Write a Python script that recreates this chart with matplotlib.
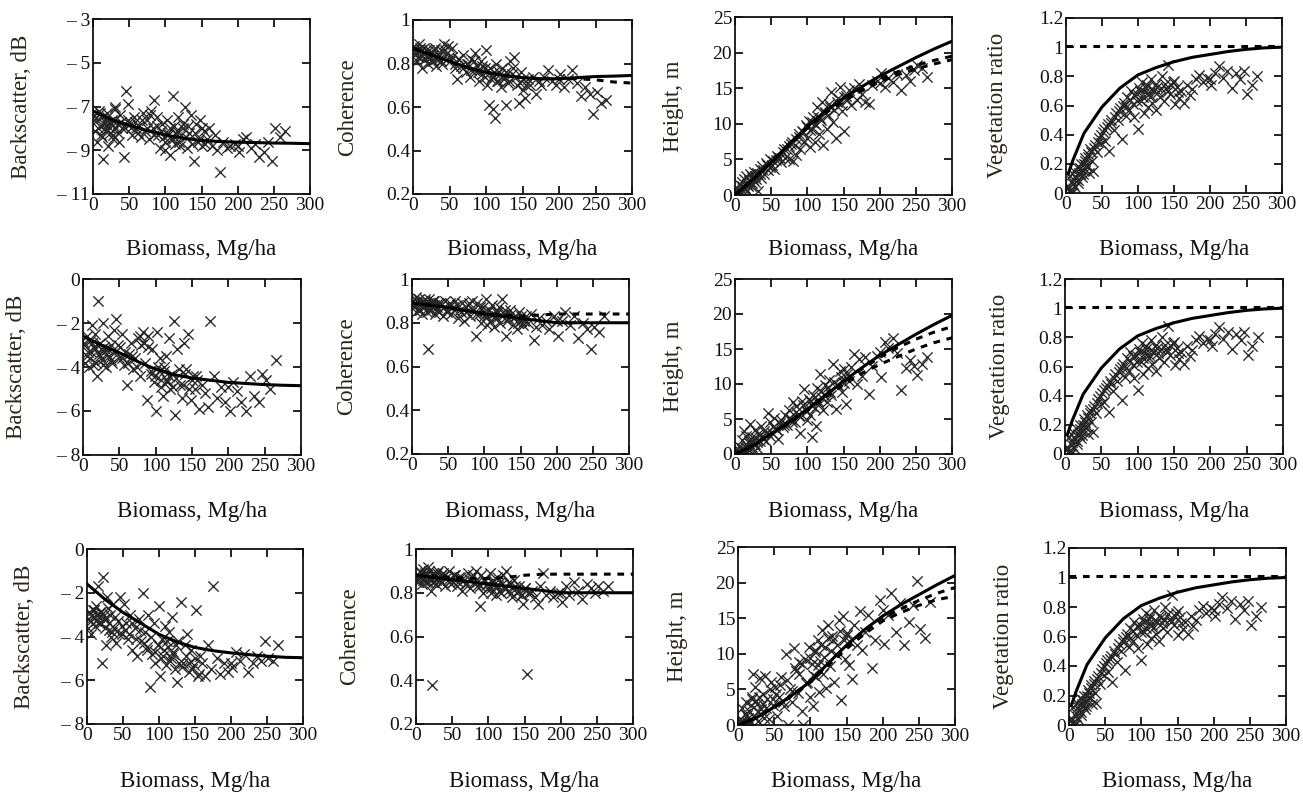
"""Biomass relations: backscatter, coherence, height and vegetation ratio (3 rows x 4 panels)."""

import matplotlib

matplotlib.use("Agg")
import matplotlib.pyplot as plt

# Stand biomass (Mg/ha), shared by every panel.
BIOMASS = [
    1, 3, 5, 6, 8, 9, 11, 12, 14, 15, 17, 19, 21, 22, 24, 26, 28, 30, 32, 34, 36, 38, 40, 43, 46, 49,
    51, 54, 57, 60, 63, 66, 69, 72, 75, 78, 80, 83, 85, 88, 90, 93, 95, 98,
    100, 102, 104, 106, 108, 110, 112, 114, 116, 118, 120, 122, 125, 127, 130, 133, 136, 139, 142, 145,
    148, 151, 154, 157,
    160, 164, 168, 172, 175, 180, 185, 190, 196, 202, 207, 212, 218, 224, 230, 236, 242, 247, 252, 258, 265,
]
# Further stands in the densely sampled range.
BIOMASS_CORE = [
    2, 7, 10, 13, 16, 18, 20, 23, 25, 27, 29, 31, 35, 39, 44, 48, 53, 58, 62, 68,
    74, 79, 84, 89, 94, 99, 103, 107, 111, 115, 119, 124, 128, 132, 137, 141, 146, 150, 155, 200,
]

# Row 1
BACKSCATTER_1 = [
    -7.4, -8.1, -7.6, -8.6, -7.2, -7.9, -8.3, -7.5, -9.4, -7.8, -8.0, -7.3, -8.8, -7.7, -8.2, -7.6, -8.5,
    -7.1, -8.0, -7.8, -8.6, -7.4, -8.0, -9.3, -6.3, -6.9,
    -7.8, -8.3, -7.5, -8.0, -7.9, -8.4, -7.3, -8.1, -7.6, -8.5, -7.2, -8.0, -6.7, -7.5, -8.3, -8.9, -7.8, -8.4,
    -9.0, -7.6, -8.2, -9.2, -8.5, -6.5, -7.9, -8.7, -8.1, -7.5, -8.8, -8.3, -7.8, -7.0, -8.9, -8.2, -7.4,
    -9.5, -7.8, -8.6, -7.6, -8.8, -8.1, -8.5,
    -8.0, -8.8, -8.3, -9.0, -10.0, -8.6, -8.9, -8.8, -8.7, -9.1, -8.5, -8.4, -8.9, -8.7, -9.3, -9.1, -8.6,
    -9.5, -8.0, -8.4, -8.1,
]
BACKSCATTER_1_CORE = [
    -7.6, -8.0, -7.3, -8.4, -7.7, -8.1, -7.5, -8.0, -7.8, -8.3, -7.6, -7.0, -8.2, -7.7, -8.0, -7.6, -8.0,
    -7.7, -8.2, -7.6, -8.0, -7.4, -8.3, -7.9, -8.1, -8.6, -8.3, -8.0, -8.5, -8.2, -8.6, -8.0, -8.4, -7.9,
    -8.7, -8.2, -8.5, -8.0, -8.7, -8.8,
]
COHERENCE_1 = [
    0.88, 0.84, 0.86, 0.81, 0.89, 0.83, 0.86, 0.78, 0.85, 0.87, 0.82, 0.84, 0.80, 0.86, 0.83, 0.85, 0.81,
    0.87, 0.79, 0.84, 0.82, 0.86, 0.80, 0.89, 0.85, 0.83,
    0.81, 0.87, 0.78, 0.73, 0.82, 0.79, 0.84, 0.76, 0.80, 0.74, 0.82, 0.77, 0.85, 0.79, 0.72, 0.81, 0.75, 0.78,
    0.86, 0.70, 0.61, 0.78, 0.74, 0.59, 0.55, 0.80, 0.72, 0.76, 0.69, 0.78, 0.74, 0.61, 0.71, 0.81, 0.75,
    0.83, 0.70, 0.62, 0.76, 0.68, 0.64, 0.73,
    0.70, 0.74, 0.66, 0.72, 0.70, 0.74, 0.77, 0.72, 0.70, 0.75, 0.69, 0.73, 0.77, 0.71, 0.65, 0.69, 0.66,
    0.57, 0.67, 0.62, 0.63,
]
COHERENCE_1_CORE = [
    0.86, 0.83, 0.87, 0.84, 0.82, 0.86, 0.83, 0.85, 0.81, 0.84, 0.86, 0.82, 0.84, 0.81, 0.86, 0.88, 0.83,
    0.80, 0.82, 0.78, 0.80, 0.77, 0.81, 0.76, 0.79, 0.74, 0.77, 0.73, 0.76, 0.72, 0.75, 0.73, 0.76, 0.72,
    0.78, 0.74, 0.71, 0.73, 0.70, 0.73,
]
HEIGHT_1 = [
    0.2, 0.8, 0.1, 1.5, 0.4, 1.8, 0.6, 2.2, 1.0, 2.6, 0.5, 2.0, 2.9, 1.2, 2.5, 3.2, 1.8, 3.0, 0.6, 3.6, 2.4,
    4.1, 3.0, 4.5, 3.5, 5.1,
    4.2, 3.6, 4.9, 5.3, 4.6, 6.0, 5.2, 6.4, 5.0, 7.2, 4.8, 7.0, 5.6, 8.1, 6.5, 9.0, 7.4, 9.8,
    8.0, 10.4, 6.8, 9.3, 11.0, 7.5, 9.9, 12.3, 8.6, 10.8, 13.0, 7.0, 11.5, 9.2, 12.8, 14.5, 10.2, 8.0, 13.6,
    15.2, 11.8, 9.0, 13.9, 14.8,
    12.6, 15.0, 13.4, 15.6, 14.2, 13.0, 12.8, 15.5, 16.0, 17.2, 15.1, 16.4, 15.9, 17.0, 14.8, 16.9, 16.0,
    17.5, 18.3, 17.8, 16.6,
]
HEIGHT_1_CORE = [
    0.0, 0.5, 1.2, 0.8, 1.6, 1.3, 2.1, 1.7, 2.3, 2.6, 2.2, 3.1, 3.0, 3.5, 4.2, 4.0, 4.8, 5.5, 5.2, 6.5,
    6.9, 7.5, 7.9, 8.6, 8.8, 9.5, 9.1, 10.2, 10.0, 11.0, 10.6, 11.6, 11.2, 12.3, 12.0, 13.0, 12.8, 13.7,
    13.4, 15.8,
]

# Vegetation ratio is the same in all three rows.
VEG_RATIO = [
    0.0, 0.05, 0.02, 0.12, 0.0, 0.08, 0.15, 0.04, 0.10, 0.18, 0.07, 0.13, 0.20, 0.11, 0.16, 0.24, 0.19, 0.27,
    0.14, 0.30, 0.22, 0.15, 0.33, 0.28, 0.38, 0.34,
    0.42, 0.36, 0.45, 0.29, 0.48, 0.43, 0.55, 0.50, 0.58, 0.37, 0.62, 0.53, 0.66, 0.57, 0.70, 0.61, 0.52, 0.68,
    0.44, 0.72, 0.63, 0.76, 0.55, 0.69, 0.74, 0.59, 0.66, 0.78, 0.62, 0.70, 0.57, 0.73, 0.66, 0.80, 0.63,
    0.72, 0.88, 0.68, 0.76, 0.61, 0.73, 0.65,
    0.70, 0.62, 0.74, 0.67, 0.71, 0.78, 0.81, 0.76, 0.79, 0.74, 0.82, 0.87, 0.79, 0.84, 0.72, 0.82, 0.78,
    0.84, 0.68, 0.74, 0.80,
]
VEG_RATIO_CORE = [
    0.03, 0.0, 0.06, 0.12, 0.09, 0.14, 0.17, 0.13, 0.20, 0.22, 0.18, 0.25, 0.28, 0.31, 0.35, 0.40, 0.44,
    0.47, 0.50, 0.52, 0.56, 0.60, 0.59, 0.64, 0.67, 0.63, 0.70, 0.66, 0.72, 0.68, 0.71, 0.74, 0.69, 0.72,
    0.75, 0.70, 0.74, 0.77, 0.69, 0.78,
]

# Row 2
BACKSCATTER_2 = [
    -3.0, -3.8, -2.6, -3.5, -4.0, -2.8, -3.3, -2.1, -3.9, -3.1, -2.5, -4.4, -1.0, -3.4, -2.9, -3.7, -2.0,
    -3.2, -4.0, -2.6, -3.5, -3.0, -3.8, -2.3, -1.8, -3.6,
    -3.1, -2.5, -3.9, -4.8, -3.4, -2.9, -4.1, -3.6, -2.7, -4.4, -3.0, -2.4, -3.8, -5.5, -2.6, -4.3, -3.2, -4.7,
    -6.0, -2.4, -4.2, -3.6, -4.9, -5.3, -4.0, -3.5, -4.6, -2.7, -5.0, -4.3, -1.9, -6.2, -3.2, -4.8, -5.4,
    -2.9, -4.1, -2.5, -5.5, -4.4, -5.0, -4.6,
    -5.9, -4.8, -5.2, -5.8, -1.9, -4.4, -5.4, -4.9, -5.6, -6.0, -4.7, -5.1, -5.6, -6.0, -4.4, -5.3, -5.6,
    -4.3, -4.6, -5.0, -3.7,
]
BACKSCATTER_2_CORE = [
    -2.9, -3.3, -3.6, -2.9, -3.2, -3.8, -3.0, -3.5, -3.2, -3.9, -3.1, -3.4, -3.2, -3.7, -3.3, -3.0, -3.6,
    -3.3, -3.8, -3.5, -4.0, -2.6, -2.9, -3.1, -4.2, -4.4, -4.0, -4.6, -4.2, -4.7, -4.4, -4.9, -4.5, -4.1,
    -4.8, -4.3, -5.0, -4.6, -4.4, -4.9,
]
COHERENCE_2 = [
    0.90, 0.87, 0.92, 0.85, 0.89, 0.91, 0.86, 0.88, 0.84, 0.90, 0.87, 0.89, 0.85, 0.68, 0.91, 0.86, 0.88,
    0.90, 0.84, 0.87, 0.89, 0.85, 0.88, 0.83, 0.90, 0.86,
    0.88, 0.84, 0.87, 0.90, 0.82, 0.86, 0.89, 0.81, 0.85, 0.88, 0.83, 0.90, 0.86, 0.74, 0.89, 0.84, 0.80, 0.87,
    0.83, 0.91, 0.79, 0.86, 0.81, 0.88, 0.84, 0.78, 0.85, 0.82, 0.87, 0.80, 0.91, 0.84, 0.74, 0.82, 0.86,
    0.79, 0.83, 0.77, 0.85, 0.81, 0.79, 0.83,
    0.80, 0.84, 0.72, 0.78, 0.82, 0.79, 0.81, 0.77, 0.83, 0.74, 0.81, 0.85, 0.79, 0.83, 0.73, 0.80, 0.77,
    0.68, 0.78, 0.76, 0.83,
]
COHERENCE_2_CORE = [
    0.88, 0.90, 0.86, 0.89, 0.87, 0.91, 0.88, 0.86, 0.89, 0.87, 0.90, 0.88, 0.86, 0.89, 0.87, 0.85, 0.89,
    0.86, 0.88, 0.85, 0.87, 0.89, 0.86, 0.84, 0.87, 0.85, 0.83, 0.86, 0.84, 0.82, 0.85, 0.83, 0.86, 0.81,
    0.84, 0.82, 0.80, 0.83, 0.81, 0.81,
]
HEIGHT_2 = [
    0.0, 0.6, 0.2, 1.2, 0.0, 2.0, 0.5, 3.3, 1.0, 2.6, 0.3, 1.8, 4.3, 0.9, 2.4, 1.5, 3.5, 0.8, 2.9, 1.9, 4.0,
    2.6, 3.3, 1.8, 5.9, 4.6,
    3.0, 5.2, 3.6, 2.2, 4.8, 3.9, 5.6, 4.2, 6.3, 5.0, 7.4, 4.6, 6.8, 5.5, 3.0, 7.6, 9.3, 6.1,
    4.8, 7.8, 5.6, 2.5, 8.5, 6.6, 4.0, 9.4, 7.2, 11.5, 8.0, 6.3, 9.8, 7.5, 10.6, 8.4, 12.8, 6.4, 9.9, 11.8,
    8.8, 12.2, 7.1, 10.5,
    12.5, 14.3, 10.0, 13.6, 11.2, 13.9, 8.6, 12.6, 14.0, 11.0, 16.0, 15.2, 16.6, 14.5, 9.2, 12.3, 13.5,
    12.6, 11.3, 12.9, 13.8,
]
HEIGHT_2_CORE = [
    0.0, 0.4, 0.9, 0.3, 1.2, 0.7, 1.6, 1.0, 1.9, 1.4, 2.3, 1.7, 2.7, 2.2, 3.2, 2.6, 3.8, 3.5, 4.5, 4.1,
    5.2, 4.6, 6.0, 5.6, 7.0, 6.2, 7.6, 6.9, 8.2, 7.6, 9.0, 8.3, 9.6, 8.8, 10.3, 9.8, 11.0, 10.2, 11.5, 14.6,
]

# Row 3
BACKSCATTER_3 = [
    -3.6, -2.9, -3.3, -3.9, -2.8, -3.1, -3.5, -2.6, -3.0, -1.7, -3.4, -2.9, -5.2, -1.3, -3.2, -4.4, -2.2,
    -3.7, -3.0, -4.0, -2.5, -3.6, -4.3, -3.3, -2.2, -3.9,
    -2.5, -3.4, -4.1, -3.0, -4.6, -3.6, -4.9, -3.2, -4.2, -2.0, -3.8, -4.5, -3.0, -6.3, -4.8, -3.4, -5.2, -4.4,
    -2.6, -5.8, -4.1, -4.9, -3.5, -5.3, -4.5, -3.8, -5.0, -3.1, -4.7, -5.5, -6.1, -4.2, -2.4, -5.2, -4.4,
    -3.9, -5.6, -4.6, -5.3, -2.8, -5.8, -4.9,
    -5.2, -5.8, -4.4, -5.5, -1.7, -5.0, -5.7, -5.2, -5.6, -5.4, -4.7, -5.1, -4.8, -5.6, -5.2, -4.9, -5.1,
    -4.2, -5.0, -5.1, -4.4,
]
BACKSCATTER_3_CORE = [
    -3.2, -3.0, -2.8, -3.3, -3.1, -2.9, -3.4, -3.0, -3.6, -3.2, -2.7, -3.4, -3.8, -3.1, -3.9, -3.5, -3.7,
    -3.9, -3.4, -4.1, -3.7, -4.3, -4.6, -4.0, -4.7, -4.4, -5.0, -4.6, -4.2, -5.1, -4.8, -4.4, -5.2, -5.4,
    -4.9, -5.2, -5.5, -5.0, -5.7, -5.2,
]
COHERENCE_3 = [
    0.88, 0.85, 0.90, 0.87, 0.84, 0.91, 0.86, 0.89, 0.85, 0.88, 0.92, 0.86, 0.81, 0.38, 0.89, 0.87, 0.84,
    0.90, 0.86, 0.88, 0.85, 0.89, 0.83, 0.87, 0.90, 0.86,
    0.85, 0.88, 0.83, 0.87, 0.81, 0.86, 0.84, 0.89, 0.82, 0.87, 0.85, 0.90, 0.83, 0.74, 0.88, 0.80, 0.86, 0.84,
    0.82, 0.89, 0.80, 0.86, 0.84, 0.79, 0.87, 0.83, 0.85, 0.80, 0.88, 0.82, 0.90, 0.81, 0.84, 0.78, 0.86,
    0.80, 0.83, 0.79, 0.75, 0.82, 0.43, 0.80,
    0.81, 0.78, 0.75, 0.83, 0.89, 0.79, 0.81, 0.78, 0.80, 0.76, 0.83, 0.79, 0.85, 0.81, 0.77, 0.84, 0.82,
    0.80, 0.83, 0.81, 0.83,
]
COHERENCE_3_CORE = [
    0.87, 0.89, 0.86, 0.88, 0.85, 0.90, 0.87, 0.85, 0.88, 0.86, 0.89, 0.87, 0.85, 0.88, 0.86, 0.84, 0.88,
    0.85, 0.87, 0.84, 0.86, 0.88, 0.85, 0.83, 0.86, 0.84, 0.82, 0.85, 0.83, 0.81, 0.84, 0.82, 0.85, 0.80,
    0.83, 0.81, 0.79, 0.82, 0.80, 0.80,
]
HEIGHT_3 = [
    0.0, 0.8, 0.2, 2.4, 0.0, 1.5, 3.3, 0.4, 1.0, 2.0, 0.3, 4.0, 7.2, 1.2, 5.3, 3.0, 0.5, 6.6, 2.2, 4.4, 1.0,
    6.9, 3.6, 0.8, 6.0, 2.8,
    5.4, 1.2, 4.0, 6.8, 2.6, 10.0, 0.0, 5.0, 3.2, 10.8, 7.6, 4.5, 8.8, 2.0, 0.0, 9.2, 6.0, 11.0,
    4.0, 8.5, 2.6, 10.2, 6.8, 12.0, 4.6, 9.0, 13.4, 7.2, 11.0, 5.2, 14.0, 8.3, 12.5, 6.0, 10.0, 14.8, 3.5,
    15.3, 9.2, 12.6, 8.4, 6.4,
    14.0, 11.2, 16.0, 10.5, 13.0, 15.4, 8.0, 12.0, 17.6, 11.4, 15.5, 18.5, 13.0, 17.2, 11.2, 14.5, 16.8,
    20.2, 13.5, 12.2, 17.3,
]
HEIGHT_3_CORE = [
    0.0, 0.6, 0.2, 1.4, 0.5, 2.8, 3.6, 1.0, 3.4, 2.0, 4.0, 1.5, 3.0, 2.4, 5.0, 3.6, 4.3, 5.6, 3.2, 6.3,
    4.8, 8.0, 7.2, 8.6, 5.9, 9.4, 7.0, 10.6, 8.4, 11.2, 9.5, 12.2, 10.4, 12.0, 11.3, 13.2, 12.0, 12.9,
    11.6, 16.2,
]

# Model curves, sampled every 25 Mg/ha.
CURVE_X = [0, 25, 50, 75, 100, 125, 150, 175, 200, 225, 250, 275, 300]
BS_FIT_1 = [-7.2, -7.6, -7.85, -8.1, -8.3, -8.45, -8.55, -8.6, -8.63, -8.65, -8.67, -8.68, -8.7]
BS_FIT_2 = [-2.6, -3.0, -3.35, -3.75, -4.1, -4.35, -4.5, -4.6, -4.7, -4.75, -4.8, -4.83, -4.85]
BS_FIT_3 = [-1.6, -2.3, -2.9, -3.4, -3.9, -4.25, -4.5, -4.65, -4.75, -4.83, -4.9, -4.95, -4.97]
COH_FIT_1 = [0.87, 0.84, 0.81, 0.78, 0.76, 0.745, 0.735, 0.73, 0.73, 0.735, 0.74, 0.742, 0.745]
COH_ALT_1 = [0.87, 0.84, 0.81, 0.78, 0.76, 0.745, 0.735, 0.73, 0.73, 0.73, 0.725, 0.715, 0.71]
COH_FIT_2 = [0.89, 0.88, 0.87, 0.855, 0.84, 0.83, 0.82, 0.81, 0.80, 0.80, 0.80, 0.80, 0.80]
COH_ALT_2 = [0.89, 0.88, 0.87, 0.855, 0.845, 0.835, 0.83, 0.835, 0.84, 0.84, 0.84, 0.84, 0.84]
COH_FIT_3 = [0.88, 0.87, 0.86, 0.85, 0.84, 0.83, 0.82, 0.81, 0.80, 0.80, 0.80, 0.80, 0.80]
COH_ALT_3 = [0.88, 0.875, 0.87, 0.865, 0.865, 0.87, 0.88, 0.885, 0.885, 0.885, 0.885, 0.885, 0.885]
HGT_FIT_1 = [0, 2.2, 4.6, 7.2, 9.6, 11.8, 13.6, 15.2, 16.7, 18.0, 19.3, 20.5, 21.6]
HGT_ALT_1A = [0, 2.2, 4.6, 7.2, 9.6, 11.8, 13.5, 15.0, 16.3, 17.3, 18.2, 18.9, 19.5]
HGT_ALT_1B = [0, 2.2, 4.6, 7.1, 9.4, 11.5, 13.2, 14.6, 15.9, 16.9, 17.7, 18.4, 19.0]
HGT_FIT_2 = [0, 1.2, 2.9, 4.6, 6.4, 8.4, 10.4, 12.3, 14.1, 15.6, 17.1, 18.5, 19.8]
HGT_ALT_2A = [0, 1.2, 2.9, 4.6, 6.4, 8.4, 10.3, 12.1, 13.8, 15.2, 16.4, 17.4, 18.2]
HGT_ALT_2B = [0, 1.2, 2.8, 4.5, 6.2, 8.1, 9.9, 11.5, 12.8, 13.9, 15.0, 15.9, 16.6]
HGT_FIT_3 = [0, 1.0, 2.5, 4.2, 6.1, 8.7, 11.2, 13.4, 15.3, 16.9, 18.3, 19.7, 21.0]
HGT_ALT_3A = [0, 1.0, 2.5, 4.2, 6.1, 8.6, 11.0, 13.1, 15.0, 16.3, 17.5, 18.5, 19.3]
HGT_ALT_3B = [0, 1.0, 2.5, 4.1, 6.0, 8.4, 10.7, 12.8, 14.6, 15.8, 16.8, 17.6, 18.1]
VEG_FIT_X = [3, 10, 25, 50, 75, 100, 125, 150, 175, 200, 225, 250, 275, 300]
VEG_FIT = [0.13, 0.23, 0.41, 0.59, 0.72, 0.81, 0.86, 0.90, 0.93, 0.95, 0.97, 0.985, 0.995, 1.0]
VEG_ALT_X = [0, 300]
VEG_ALT = [1.01, 1.01]

X_TICKS = [0, 50, 100, 150, 200, 250, 300]
BS_TICKS_1 = [-11, -9, -7, -5, -3]
BS_TICKS_23 = [-8, -6, -4, -2, 0]
COH_TICKS = [0.2, 0.4, 0.6, 0.8, 1.0]
HGT_TICKS = [0, 5, 10, 15, 20, 25]
VEG_TICKS = [0, 0.2, 0.4, 0.6, 0.8, 1.0, 1.2]

W, H = 1303, 796
FONT = "Liberation Serif"
INK = "#111111"


def tick_label(v):
    if v < 0:
        return f"\u2013 {abs(v):g}"
    return f"{v:g}"


def make_axes(fig, box):
    left, top, right, bottom = box
    ax = fig.add_axes([left / W, 1 - bottom / H, (right - left) / W, (bottom - top) / H])
    for sp in ax.spines.values():
        sp.set_linewidth(1.3)
        sp.set_color(INK)
    ax.tick_params(direction="in", length=6, width=1.3, top=True, right=True,
                   labelsize=14, pad=2, colors=INK)
    ax.set_xlim(0, 300)
    ax.set_xticks(X_TICKS)
    ax.set_xticklabels([tick_label(v) for v in X_TICKS], fontfamily=FONT)
    return ax


def draw_panel(ax, x, y, ticks, fits, alts):
    ax.scatter(x, y, marker="x", s=55, linewidths=0.95, color="#262626", zorder=2)
    for fx, fy in fits:
        ax.plot(fx, fy, color="black", lw=2.2, zorder=4)
    for ax_x, ax_y in alts:
        ax.plot(ax_x, ax_y, color="black", lw=2.2, ls=(0, (2.2, 2.2)), zorder=3)
    ax.set_ylim(ticks[0], ticks[-1])
    ax.set_yticks(ticks)
    ax.set_yticklabels([tick_label(v) for v in ticks], fontfamily=FONT)


fig = plt.figure(figsize=(W / 100, H / 100), dpi=100, facecolor="white")

boxes = [
    [(93, 19, 310, 194), (413, 20, 632, 194), (735, 17, 952, 195), (1066, 18, 1282, 193)],
    [(83, 279, 301, 455), (412, 279, 629, 454), (735, 279, 952, 454), (1065, 279, 1283, 454)],
    [(87, 549, 303, 724), (416, 549, 633, 724), (738, 547, 955, 725), (1069, 548, 1286, 725)],
]
ylabel_x = [[22, 348, 673, 997], [17, 347, 673, 1000], [25, 350, 677, 1003]]
xlabel_y = [250, 512, 782]
ylabels = ["Backscatter, dB", "Coherence", "Height, m", "Vegetation ratio"]

rows = [
    (BACKSCATTER_1 + BACKSCATTER_1_CORE, BS_TICKS_1, BS_FIT_1,
     COHERENCE_1 + COHERENCE_1_CORE, COH_FIT_1, COH_ALT_1,
     HEIGHT_1 + HEIGHT_1_CORE, HGT_FIT_1, HGT_ALT_1A, HGT_ALT_1B),
    (BACKSCATTER_2 + BACKSCATTER_2_CORE, BS_TICKS_23, BS_FIT_2,
     COHERENCE_2 + COHERENCE_2_CORE, COH_FIT_2, COH_ALT_2,
     HEIGHT_2 + HEIGHT_2_CORE, HGT_FIT_2, HGT_ALT_2A, HGT_ALT_2B),
    (BACKSCATTER_3 + BACKSCATTER_3_CORE, BS_TICKS_23, BS_FIT_3,
     COHERENCE_3 + COHERENCE_3_CORE, COH_FIT_3, COH_ALT_3,
     HEIGHT_3 + HEIGHT_3_CORE, HGT_FIT_3, HGT_ALT_3A, HGT_ALT_3B),
]
biomass = BIOMASS + BIOMASS_CORE
veg = VEG_RATIO + VEG_RATIO_CORE

for r, (bs, bs_ticks, bs_fit, coh, coh_fit, coh_alt, hgt, hgt_fit, hgt_a, hgt_b) in enumerate(rows):
    axes = [make_axes(fig, b) for b in boxes[r]]
    draw_panel(axes[0], biomass, bs, bs_ticks, [(CURVE_X, bs_fit)], [])
    draw_panel(axes[1], biomass, coh, COH_TICKS, [(CURVE_X, coh_fit)], [(CURVE_X, coh_alt)])
    draw_panel(axes[2], biomass, hgt, HGT_TICKS, [(CURVE_X, hgt_fit)],
               [(CURVE_X, hgt_a), (CURVE_X, hgt_b)])
    draw_panel(axes[3], biomass, veg, VEG_TICKS, [(VEG_FIT_X, VEG_FIT)], [(VEG_ALT_X, VEG_ALT)])

    for c, ax in enumerate(axes):
        left, top, right, bottom = boxes[r][c]
        fig.text(ylabel_x[r][c] / W, 1 - (top + bottom) / 2 / H, ylabels[c], rotation=90,
                 ha="center", va="center", fontsize=16.5, fontfamily=FONT, color="#2b2418")
        fig.text((left + right) / 2 / W, 1 - xlabel_y[r] / H, "Biomass, Mg/ha",
                 ha="center", va="center", fontsize=16.5, fontfamily=FONT, color=INK)

fig.savefig("out.png", dpi=100, facecolor="white")
